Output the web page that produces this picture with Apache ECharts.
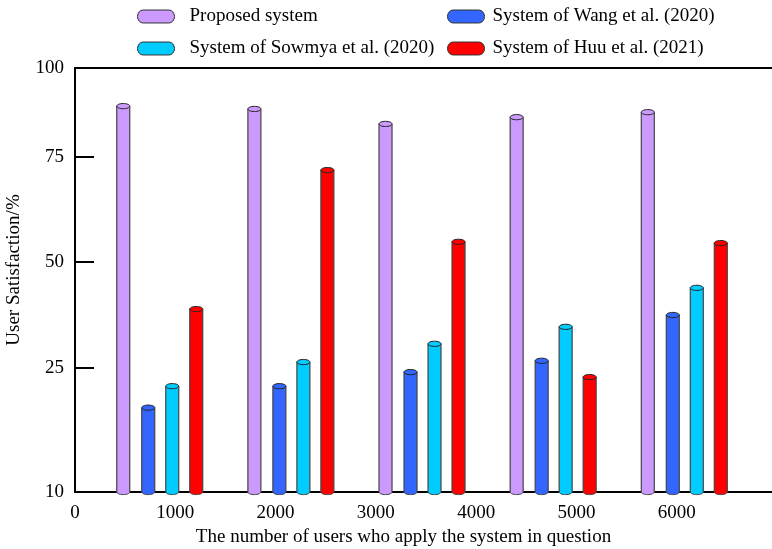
<!DOCTYPE html>
<html>
<head>
<meta charset="utf-8">
<script src="https://cdn.jsdelivr.net/npm/echarts@6/dist/echarts.min.js"></script>
<style>html,body{margin:0;padding:0;background:#fff}#c{width:772px;height:549px}</style>
</head>
<body>
<div id="c"></div>
<script>
// ---- data ----
const categories = ["1000", "2000", "4000", "5000", "6000"];
const seriesNames = ["Proposed system", "System of Wang et al. (2020)", "System of Sowmya et al. (2020)", "System of Huu et al. (2021)"];
const proposed = [89.3, 88.5, 84.3, 86.2, 87.6];
const wang = [20.2, 22.8, 24.5, 26.7, 37.5];
const sowmya = [22.8, 26.4, 30.7, 34.7, 43.9];
const huu = [38.9, 71.9, 54.8, 23.9, 54.5];
const yTickLabels = [10, 25, 50, 75, 100];
const xTickLabels = [0, 1000, 2000, 3000, 4000, 5000, 6000];

// ---- scale definition: piecewise axis (fraction of axis height at each tick) ----
const yScaleStops = [0, 0.2925, 0.5425, 0.790, 1];
function toAxis(v) {
  for (let i = 0; i < yTickLabels.length - 1; i++) {
    const a = yTickLabels[i], b = yTickLabels[i + 1];
    if (v <= b || i === yTickLabels.length - 2) {
      return yScaleStops[i] + (v - a) / (b - a) * (yScaleStops[i + 1] - yScaleStops[i]);
    }
  }
}
function fromAxis(f) {
  for (let i = 0; i < yScaleStops.length; i++) {
    if (Math.abs(yScaleStops[i] - f) < 1e-6) return yTickLabels[i];
  }
  return '';
}

const colors = ['#CC99FF', '#3366FF', '#00CCFF', '#FF0000'];
const offsets = [-37, -12, 12, 36];
const allData = [proposed, wang, sowmya, huu];
const font = 'Liberation Serif';
const fs = 19;

function makeSeries(k) {
  return {
    type: 'custom',
    name: seriesNames[k],
    xAxisIndex: 1,
    yAxisIndex: 0,
    itemStyle: { color: colors[k], borderColor: '#333', borderWidth: 1 },
    data: allData[k].map((v, i) => [i, toAxis(v)]),
    z: 3,
    renderItem: function (params, api) {
      const top = api.coord([api.value(0), api.value(1)]);
      const base = api.coord([api.value(0), 0]);
      const w = 13, rx = w / 2, ry = 2.6;
      const cx = top[0] + offsets[k];
      const x0 = cx - rx;
      const stroke = '#444';
      return {
        type: 'group',
        children: [
          { type: 'ellipse', shape: { cx: cx, cy: base[1], rx: rx, ry: ry },
            style: { fill: colors[k], stroke: stroke, lineWidth: 1 } },
          { type: 'rect', shape: { x: x0, y: top[1], width: w, height: base[1] - top[1] },
            style: { fill: colors[k] } },
          { type: 'line', shape: { x1: x0, y1: top[1], x2: x0, y2: base[1] },
            style: { stroke: stroke, lineWidth: 1.2 } },
          { type: 'line', shape: { x1: x0 + w, y1: top[1], x2: x0 + w, y2: base[1] },
            style: { stroke: stroke, lineWidth: 1.2 } },
          { type: 'ellipse', shape: { cx: cx, cy: top[1], rx: rx, ry: ry },
            style: { fill: colors[k], stroke: '#222', lineWidth: 1 } }
        ]
      };
    }
  };
}

const chart = echarts.init(document.getElementById('c'), null, { renderer: 'canvas' });
const legendCommon = {
  orient: 'vertical',
  itemWidth: 37,
  itemHeight: 14,
  itemGap: 13,
  icon: 'path://M6,0 L34,0 A6,7 0 0 1 34,14 L6,14 A6,7 0 0 1 6,0 Z',
  itemStyle: { borderColor: '#333', borderWidth: 1 },
  textStyle: { fontFamily: font, fontSize: fs, color: '#000', padding: [0, 0, 0, 10] }
};
chart.setOption({
  animation: false,
  backgroundColor: '#fff',
  legend: [
    Object.assign({}, legendCommon, { data: [seriesNames[0], seriesNames[2]], left: 132, top: 2 }),
    Object.assign({}, legendCommon, { data: [seriesNames[1], seriesNames[3]], left: 442, top: 2,
      textStyle: Object.assign({}, legendCommon.textStyle, { padding: [0, 0, 0, 3] }) })
  ],
  grid: { left: 75, right: 0, top: 68, bottom: 57, containLabel: false, outerBoundsMode: 'none' },
  xAxis: [
    {
      type: 'value',
      min: 0, max: 6950, interval: 1000,
      position: 'bottom',
      name: 'The number of users who apply the system in question',
      nameLocation: 'middle',
      nameGap: 36,
      nameTextStyle: { fontFamily: font, fontSize: fs, color: '#000', padding: [0, 40, 0, 0] },
      axisLine: { show: true, lineStyle: { color: '#000', width: 2 } },
      axisTick: { show: false },
      splitLine: { show: false },
      axisLabel: {
        fontFamily: font, fontSize: fs, color: '#000', margin: 12,
        formatter: function (v) { return xTickLabels.indexOf(v) >= 0 ? String(v) : ''; }
      }
    },
    {
      type: 'value',
      min: -0.65, max: 4.665,
      position: 'top',
      axisLine: { show: true, onZero: false, lineStyle: { color: '#000', width: 2 } },
      axisTick: { show: false },
      axisLabel: { show: false },
      splitLine: { show: false }
    }
  ],
  yAxis: [{
    type: 'value',
    min: 0, max: 1,
    name: 'User Satisfaction/%',
    nameLocation: 'middle',
    nameGap: 51,
    nameTextStyle: { fontFamily: font, fontSize: fs, color: '#000', padding: [0, 0, 0, 20] },
    axisLine: { show: true, lineStyle: { color: '#000', width: 2 } },
    axisTick: { show: true, inside: true, length: 19, lineStyle: { color: '#000', width: 2 },
      customValues: yScaleStops.slice(1, 4) },
    axisLabel: { fontFamily: font, fontSize: fs, color: '#000', margin: 11,
      customValues: yScaleStops, formatter: function (v) { return String(fromAxis(v)); } },
    splitLine: { show: false }
  }],
  series: [0, 1, 2, 3].map(makeSeries)
});
</script>
</body>
</html>
